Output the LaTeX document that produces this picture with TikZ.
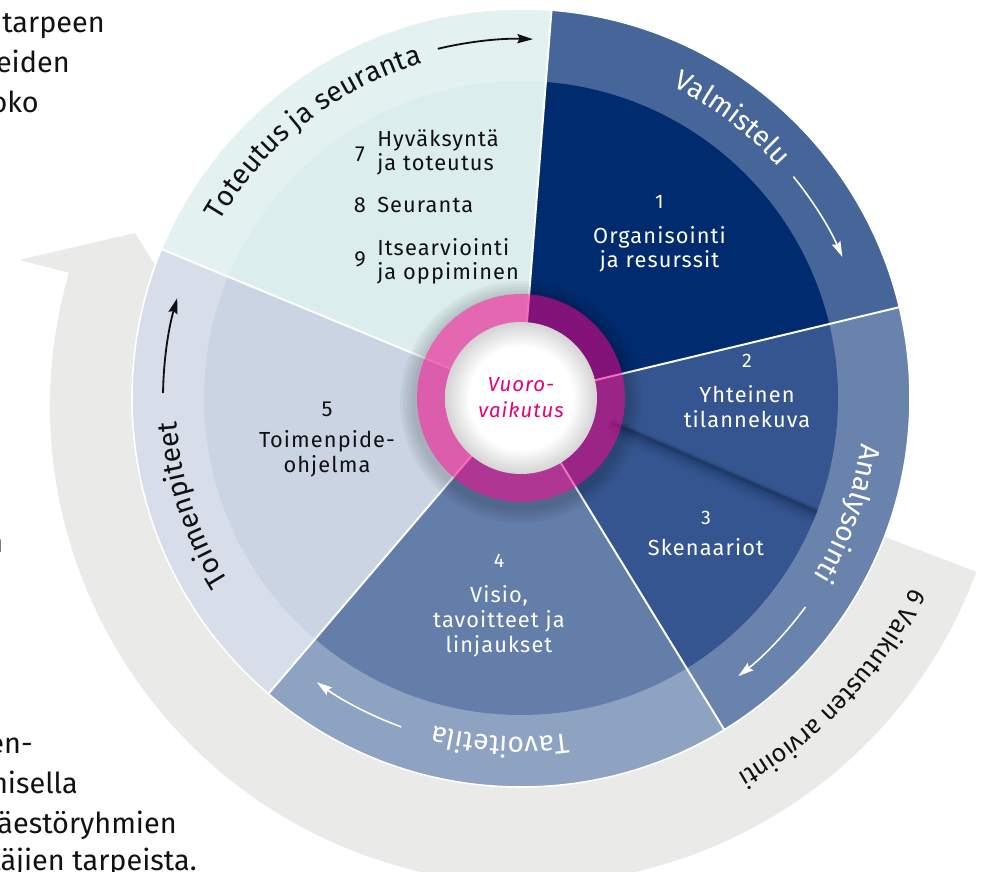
\documentclass[tikz,border=0pt]{standalone}
\usepackage{fontspec}
\setmainfont{Fira Sans}
\newfontfamily\wheelfont{Fira Sans}[LetterSpace=5]
\newfontfamily\ringfont{Fira Sans}
\usetikzlibrary{arrows.meta,decorations.text,calc}

% palette
\definecolor{prepOuter}{HTML}{466699}
\definecolor{prepInner}{HTML}{002B6F}
\definecolor{anaOuter}{HTML}{6A83AD}
\definecolor{anaInner}{HTML}{34558F}
\definecolor{goalOuter}{HTML}{8EA2C2}
\definecolor{goalInner}{HTML}{647EAA}
\definecolor{actOuter}{HTML}{D7DEE9}
\definecolor{actInner}{HTML}{CAD4E3}
\definecolor{impOuter}{HTML}{E3F1F1}
\definecolor{impInner}{HTML}{DCEDEE}
\definecolor{bandGray}{HTML}{EAEAE8}
\definecolor{hubPink}{HTML}{EA0082}
\definecolor{hubText}{HTML}{E4007D}
\definecolor{inkBlack}{HTML}{111111}
\definecolor{foldShadow}{HTML}{0E1E3F}

% soft white hub
\pgfdeclareradialshading{hubshade}{\pgfpoint{0bp}{0bp}}{color(0bp)=(white); color(17bp)=(white); color(25bp)=(black!17); color(50bp)=(black!17)}

\tikzset{
  wlabel/.style={font={\wheelfont\fontsize{15.5}{18}\selectfont}, text=white, inner sep=0pt, anchor=base},
  wnum/.style={font={\wheelfont\fontsize{14}{17}\selectfont}, text=white, inner sep=0pt, anchor=base},
  dlabel/.style={font={\wheelfont\fontsize{15.5}{18}\selectfont}, text=inkBlack, inner sep=0pt, anchor=base},
  dlabelw/.style={dlabel, anchor=base west},
  hubtext/.style={font={\wheelfont\itshape\fontsize{14.5}{17}\selectfont}, text=hubText, inner sep=0pt, anchor=base},
  pagetext/.style={font={\fontsize{20.5}{24}\selectfont}, text=inkBlack, inner sep=0pt, anchor=base east},
  divider/.style={white, line width=1.4pt},
  whitearrow/.style={white, line width=1.1pt, -{Stealth[length=11pt, width=6.5pt, inset=1.5pt]}},
  blackarrow/.style={inkBlack, line width=1.3pt, -{Stealth[length=11pt, width=6.5pt, inset=1.5pt]}},
  ringtext/.style={decorate, decoration={text along path, text align=center, text color=#1}},
}

\begin{document}
\begin{tikzpicture}[x=0.025cm, y=0.025cm]
\useasboundingbox (-521,-474) rectangle (463,398);
\clip (-521,-474) rectangle (463,398);

% grey impact band with its arrow head
\fill[bandGray] (0,0) -- ([shift={(7,-8)}]-20.3:478)
  arc[start angle=-20.3, end angle=-196.2, radius=478]
  -- (-502,138) -- (-386,165) -- (-332,78) -- cycle;

% outer rings of the five phases
\foreach \a/\b/\c in {13.5/85.5/prepOuter, -58.5/13.5/anaOuter, -130.5/-58.5/goalOuter,
                      157.5/229.5/actOuter, 85.5/157.5/impOuter}
  \fill[\c] (0,0) -- (\a:389) arc[start angle=\a, end angle=\b, radius=389] -- cycle;

% inner fields
\foreach \a/\b/\c in {13.5/85.5/prepInner, -58.5/13.5/anaInner, -130.5/-58.5/goalInner,
                      157.5/229.5/actInner, 85.5/157.5/impInner}
  \fill[\c] (0,0) -- (\a:317) arc[start angle=\a, end angle=\b, radius=317] -- cycle;

% soft fold shadow between fields 2 and 3
\begin{scope}
  \clip (0,0) circle[radius=317];
  \foreach \w/\o/\d in {13/0.05/5, 10/0.06/4, 7/0.08/3, 5/0.10/2, 3/0.14/1, 1.6/0.18/0.5}
    \draw[foldShadow, line width=\w pt, opacity=\o]
      ($(90,-24)+(-0.4*\d,-0.92*\d)$) -- ($(300,-115)+(-0.4*\d,-0.92*\d)$);
\end{scope}

% dividers and rim
\foreach \a in {85.5, 13.5, -58.5, -130.5, 157.5}
  \draw[divider] (\a:70) -- (\a:389);
\draw[white, line width=1.1pt] (0,0) circle[radius=389];

% drop shadow of the hub
\foreach \k in {5,8,11,14,17}
  \fill[black, opacity=0.035, even odd rule] (0,-4) circle[radius=104+\k] (0,0) circle[radius=104];

% hub ring and disc
\fill[hubPink, opacity=0.56] (0,0) circle[radius=104];
\shade[shading=hubshade] (0,0) circle[radius=76];

% ring captions
\path[ringtext=white, decoration={text={|\ringfont\fontsize{20}{24}\selectfont|Valmistelu}}]
  (88:346) arc[start angle=88, end angle=18, radius=346];
\path[ringtext=inkBlack, decoration={text={|\ringfont\fontsize{20}{24}\selectfont|Toteutus ja seuranta}}]
  (170:349) arc[start angle=170, end angle=86, radius=349];
\path[ringtext=white, decoration={text={|\ringfont\fontsize{20}{24}\selectfont|Analysointi}}]
  (16:343) arc[start angle=16, end angle=-55, radius=343];
\path[ringtext=white, decoration={text={|\ringfont\fontsize{20}{24}\selectfont|Tavoitetila}}]
  (-58:339) arc[start angle=-58, end angle=-129, radius=339];
\path[ringtext=inkBlack, decoration={text={|\ringfont\fontsize{20}{24}\selectfont|Toimenpiteet}}]
  (233:345) arc[start angle=233, end angle=163, radius=345];
\path[ringtext=inkBlack, decoration={text={|\ringfont\fontsize{18}{21}\selectfont|6 Vaikutusten arviointi}}]
  (5:434) arc[start angle=5, end angle=-91, radius=434];

% direction arrows in the ring
\draw[whitearrow] (39.1:351) arc[start angle=39.1, end angle=23.7, radius=351];
\draw[whitearrow] (-36.3:353) arc[start angle=-36.3, end angle=-52, radius=353];
\draw[whitearrow] (-110:350) arc[start angle=-110, end angle=-125.7, radius=350];
\draw[blackarrow] (179.2:358) arc[start angle=179.2, end angle=163.8, radius=358];
\draw[blackarrow] (103.4:359) arc[start angle=103.4, end angle=88.1, radius=359];

% field texts
\node[wnum]   (n1)  at (138.5,189) {1};
\node[wlabel] (t1a) at (138.5,154) {Organisointi};
\node[wlabel] (t1b) at (138.5,130) {ja resurssit};

\node[wnum]   (n2)  at (226,30) {2};
\node[wlabel] (t2a) at (226,-5) {Yhteinen};
\node[wlabel] (t2b) at (226,-30) {tilannekuva};

\node[wnum]   (n3)  at (185,-127) {3};
\node[wlabel] (t3a) at (185,-158) {Skenaariot};

\node[wnum]   (n4)  at (-22,-170) {4};
\node[wlabel] (t4a) at (-22,-204) {Visio,};
\node[wlabel] (t4b) at (-22,-229) {tavoitteet ja};
\node[wlabel] (t4c) at (-22,-254) {linjaukset};

\node[dlabel] (n5)  at (-194,-19) {5};
\node[dlabel] (t5a) at (-194,-50) {Toimenpide-};
\node[dlabel] (t5b) at (-194,-75) {ohjelma};

\node[dlabel]  (n7)  at (-161,236) {7};
\node[dlabelw] (t7a) at (-144,251) {Hyväksyntä};
\node[dlabelw] (t7b) at (-144,227) {ja toteutus};
\node[dlabel]  (n8)  at (-161,185) {8};
\node[dlabelw] (t8a) at (-144,185) {Seuranta};
\node[dlabel]  (n9)  at (-161,131) {9};
\node[dlabelw] (t9a) at (-144,142) {Itsearviointi};
\node[dlabelw] (t9b) at (-144,118) {ja oppiminen};

\node[hubtext] (hubA) at (0,6) {Vuoro-};
\node[hubtext] (hubB) at (0,-20) {vaikutus};

% running page text at the left edge
\node[pagetext] (p1) at (-416,365) {tarpeen};
\node[pagetext] (p2) at (-451,325) {eiden};
\node[pagetext] (p3) at (-482,285) {oko};
\node[pagetext] (p4) at (-517.5,-155) {n};
\node[pagetext] (p5) at (-488,-355) {en-};
\node[pagetext] (p6) at (-443,-395) {misella};
\node[pagetext] (p7) at (-344,-435) {äestöryhmien};
\node[pagetext] (p8) at (-324,-472) {täjien tarpeista.};
\end{tikzpicture}
\end{document}
